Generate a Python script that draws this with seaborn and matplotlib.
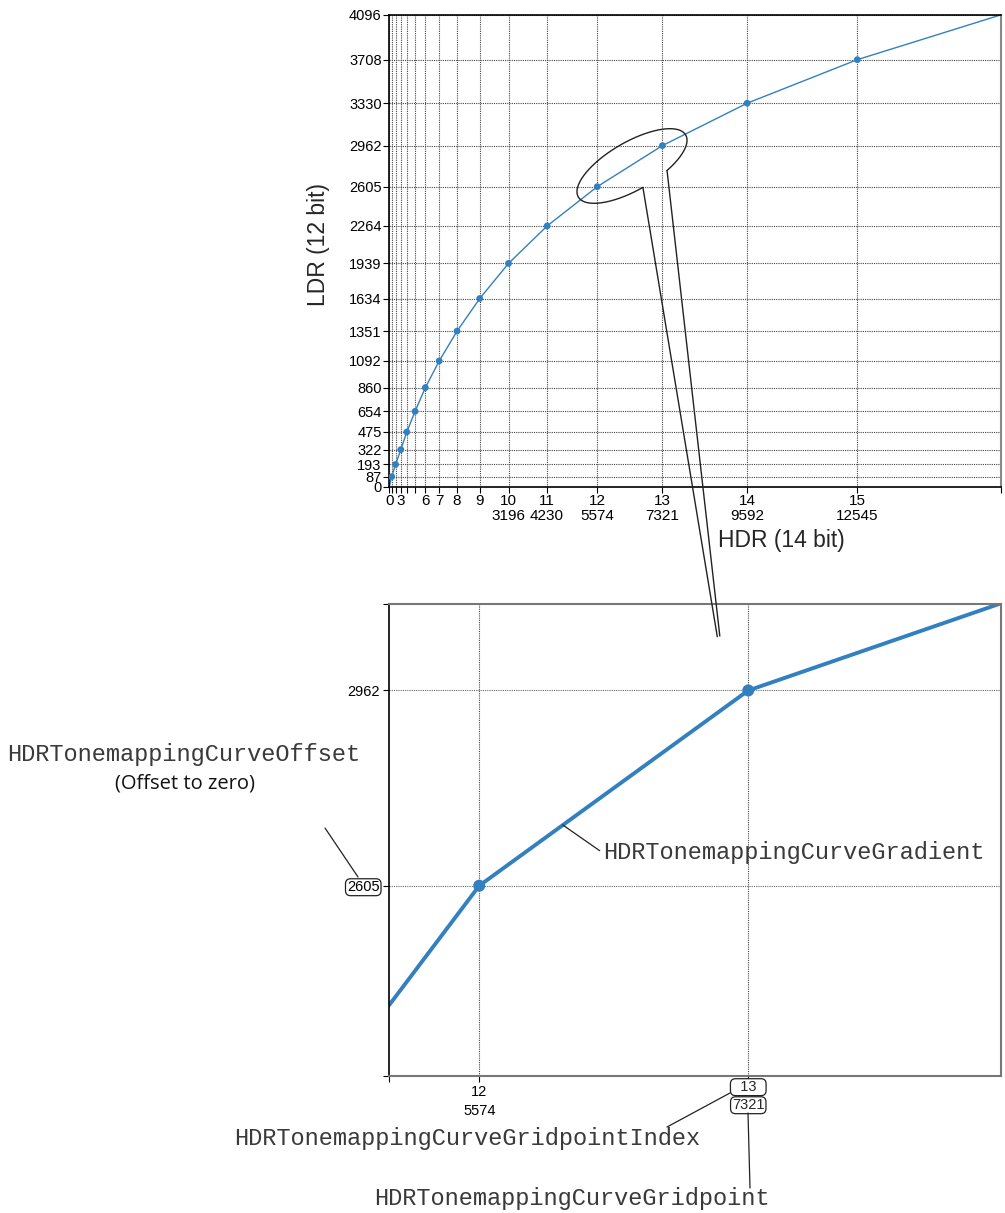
import matplotlib
matplotlib.use("Agg")
import numpy as np
import matplotlib.pyplot as plt
import seaborn as sns
import pandas as pd
from matplotlib.lines import Line2D

# ---------------- data ----------------
gridpoint_index = list(range(17))
hdr_gridpoints = [0, 64, 168, 308, 468, 690, 966, 1338, 1816, 2424,
                  3196, 4230, 5574, 7321, 9592, 12545, 16384]
ldr_values = [0, 87, 193, 322, 475, 654, 860, 1092, 1351, 1634,
              1939, 2264, 2605, 2962, 3330, 3708, 4096]
shown_index_labels = [0, 3, 6, 7, 8, 9, 10, 11, 12, 13, 14, 15]
shown_value_labels = [10, 11, 12, 13, 14, 15]

# detail (zoomed) view around gridpoints 12 and 13
detail_hdr = [4990, 5574, 7321, 8959]
detail_ldr = [2387, 2605, 2962, 3121]
detail_points_hdr = [5574, 7321]
detail_points_ldr = [2605, 2962]
detail_xlim = (4990, 8959)
detail_ylim = (2258, 3121)

BLUE = "#3380c0"
W, H = 1005, 1213

sns.set_style("ticks")
plt.rcParams["font.family"] = ["Liberation Sans", "DejaVu Sans"]
plt.rcParams["xtick.direction"] = "out"
plt.rcParams["ytick.direction"] = "out"

fig = plt.figure(figsize=(W / 100, H / 100), dpi=100)


def fx(x):
    return x / W


def fy(y):
    return 1 - y / H


# ---------------- top chart ----------------
ax1 = fig.add_axes([389.3 / W, fy(486.7), (1000.5 - 389.3) / W, (486.7 - 15) / H])
df = pd.DataFrame({"hdr": hdr_gridpoints, "ldr": ldr_values, "idx": gridpoint_index})
sns.lineplot(data=df, x="hdr", y="ldr", ax=ax1, color=BLUE, linewidth=1.0,
             estimator=None, sort=False)
sns.scatterplot(data=df.iloc[1:-1], x="hdr", y="ldr", ax=ax1, color=BLUE,
                s=24, edgecolor="none", zorder=5)
ax1.set_xlim(0, 16384)
ax1.set_ylim(0, 4096)

xt_labels = []
for i, v in zip(gridpoint_index, hdr_gridpoints):
    lab = str(i) if i in shown_index_labels else ""
    if i in shown_value_labels:
        lab += "\n" + str(v)
    xt_labels.append(lab)
ax1.set_xticks(hdr_gridpoints)
ax1.set_xticklabels(xt_labels, fontsize=11, linespacing=1.05)
ax1.set_yticks(ldr_values)
ax1.set_yticklabels([str(v) for v in ldr_values], fontsize=10.5)
ax1.tick_params(axis="both", length=4, width=0.8, pad=1.5, colors="black")
ax1.grid(True, linestyle=(0, (1, 1)), color="#444444", linewidth=0.8)
for s in ["left", "bottom", "top"]:
    ax1.spines[s].set_color("black")
    ax1.spines[s].set_linewidth(1.2)
ax1.spines["right"].set_color("#888888")
ax1.spines["right"].set_linewidth(1.5)
ax1.set_xlabel("")
ax1.set_ylabel("")

fig.text(fx(318), fy(245), "LDR (12 bit)", rotation=90, ha="center", va="center",
         fontsize=16.5)
fig.text(fx(781), fy(541), "HDR (14 bit)", ha="center", va="center", fontsize=16.5)

# ellipse callout (open arc + wedge tail), figure-pixel geometry (y down)
cx, cy, a, b, ang = 632.0, 166.0, 62.0, 24.0, np.deg2rad(-30)


def ell_pt(t):
    x0, y0 = a * np.cos(t), b * np.sin(t)
    return (cx + x0 * np.cos(ang) - y0 * np.sin(ang),
            cy + x0 * np.sin(ang) + y0 * np.cos(ang))


def param_of(px, py):
    dx, dy = px - cx, py - cy
    x0 = dx * np.cos(-ang) - dy * np.sin(-ang)
    y0 = dx * np.sin(-ang) + dy * np.cos(-ang)
    return np.arctan2(y0 / b, x0 / a)


tA = param_of(641.7, 185)   # left attachment (lower edge)
tB = param_of(663.3, 170)   # right attachment
# arc goes from B around the far side back to A
if tA < tB:
    tA += 2 * np.pi
ts = np.linspace(tB, tA, 200)
# choose the long way round (the gap is the short piece between A and B)
if (tA - tB) < np.pi:
    ts = np.linspace(tA, tB + 2 * np.pi, 200)
pts = [ell_pt(t) for t in ts]
xs = [p[0] for p in pts]
ys = [p[1] for p in pts]
fig.add_artist(Line2D([fx(x) for x in xs], [fy(y) for y in ys], color="#222222", lw=1.0))
pA = ell_pt(tA)
pB = ell_pt(tB)
fig.add_artist(Line2D([fx(pA[0]), fx(717.3)], [fy(pA[1]), fy(636.7)],
                      color="#222222", linewidth=1.0))
fig.add_artist(Line2D([fx(pB[0]), fx(719.8)], [fy(pB[1]), fy(636)],
                      color="#222222", linewidth=1.0))

# ---------------- bottom chart ----------------
ax2 = fig.add_axes([389.3 / W, fy(1075.5), (1000.5 - 389.3) / W, (1075.5 - 603.5) / H])
ddf = pd.DataFrame({"hdr": detail_hdr, "ldr": detail_ldr})
pdf = pd.DataFrame({"hdr": detail_points_hdr, "ldr": detail_points_ldr})
sns.lineplot(data=ddf, x="hdr", y="ldr", ax=ax2, color=BLUE, linewidth=2.8,
             estimator=None, sort=False)
sns.scatterplot(data=pdf, x="hdr", y="ldr", ax=ax2, color=BLUE, s=75,
                edgecolor="none", zorder=5)
ax2.set_xlim(*detail_xlim)
ax2.set_ylim(*detail_ylim)
ax2.set_xlabel("")
ax2.set_ylabel("")

ax2.set_xticks([detail_xlim[0], 5574, 7321])
ax2.set_xticklabels(["", "12\n5574", ""], fontsize=10.5, linespacing=1.4)
ax2.set_yticks([detail_ylim[0], 2605, 2962, detail_ylim[1]])
ax2.set_yticklabels(["", "2605", "2962", ""], fontsize=10.5)
ax2.tick_params(axis="both", length=4, width=0.8, pad=3, colors="black")
ax2.grid(False)
for xv in [5574, 7321]:
    ax2.axvline(xv, linestyle=(0, (1, 1)), color="#444444", linewidth=0.8, zorder=0)
for yv in [2605, 2962]:
    ax2.axhline(yv, linestyle=(0, (1, 1)), color="#666666", linewidth=0.8, zorder=0)
ax2.spines["left"].set_color("black")
ax2.spines["left"].set_linewidth(1.2)
for s in ["bottom", "top", "right"]:
    ax2.spines[s].set_color("#777777")
    ax2.spines[s].set_linewidth(1.5)

box = dict(boxstyle="round,pad=0.1,rounding_size=0.35", fc="white", ec="#222222", lw=0.9)
for lab in ax2.get_yticklabels():
    if lab.get_text() == "2605":
        lab.set_bbox(box)

ax2.annotate("  13  ", xy=(7321, 0), xycoords=("data", "axes fraction"),
             xytext=(0, -8.4), textcoords="offset points", ha="center", va="center",
             fontsize=10.5, bbox=box, annotation_clip=False)
ax2.annotate("7321", xy=(7321, 0), xycoords=("data", "axes fraction"),
             xytext=(0, -21.4), textcoords="offset points", ha="center", va="center",
             fontsize=10.5, bbox=box, annotation_clip=False)

# ---------------- annotations ----------------
MONO = ["Liberation Mono", "DejaVu Sans Mono"]
TXT = "#3a3a3a"
FS = 17
fig.text(fx(184), fy(755), "HDRTonemappingCurveOffset", family=MONO, fontsize=FS,
         ha="center", va="center", color=TXT)
fig.text(fx(185), fy(783), "(Offset to zero)", family=["Open Sans", "DejaVu Sans"],
         fontsize=14.5, ha="center", va="center", color="#111111")
fig.add_artist(Line2D([fx(325), fx(358)], [fy(828), fy(877)], color="#222222", lw=0.9))

# gradient callout: from a point on the 12->13 segment
gx = 6117
gy = detail_points_ldr[0] + (gx - detail_points_hdr[0]) / (detail_points_hdr[1] - detail_points_hdr[0]) * (detail_points_ldr[1] - detail_points_ldr[0])
ax2.annotate("HDRTonemappingCurveGradient", xy=(gx, gy), xycoords="data",
             xytext=(603, H - 853), textcoords="figure pixels",
             family=MONO, fontsize=FS, ha="left", va="center", color=TXT,
             arrowprops=dict(arrowstyle="-", color="#222222", lw=0.9,
                             shrinkA=0, shrinkB=0, relpos=(0, 0.5)))

fig.text(fx(467.5), fy(1139), "HDRTonemappingCurveGridpointIndex", family=MONO,
         fontsize=FS, ha="center", va="center", color=TXT)
fig.add_artist(Line2D([fx(730), fx(667)], [fy(1093), fy(1127)], color="#222222", lw=0.9))

fig.text(fx(572), fy(1198), "HDRTonemappingCurveGridpoint", family=MONO,
         fontsize=FS, ha="center", va="center", color=TXT)
fig.add_artist(Line2D([fx(748), fx(750)], [fy(1113), fy(1188)], color="#222222", lw=0.9))

fig.savefig("out.png", dpi=100)
